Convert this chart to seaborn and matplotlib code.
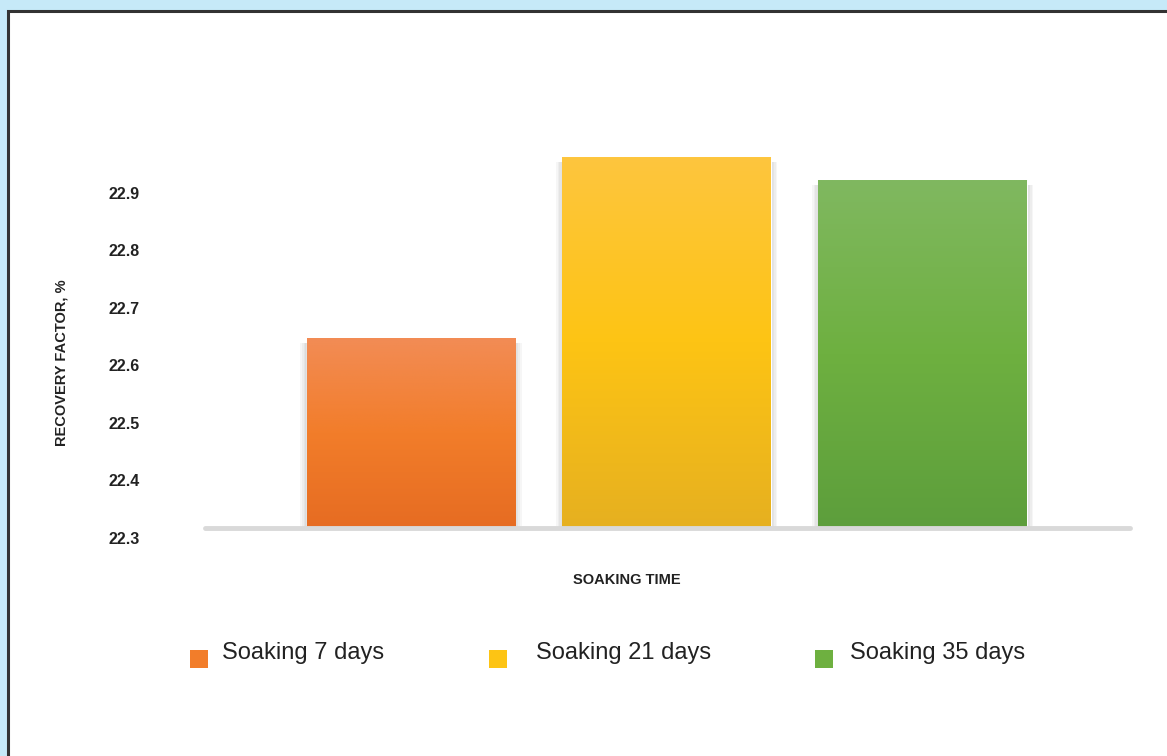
import numpy as np
import pandas as pd
import matplotlib
matplotlib.use("Agg")
import matplotlib.pyplot as plt
import matplotlib.patches as mpatches
import matplotlib.transforms as mtransforms
from matplotlib.colors import LinearSegmentedColormap
from matplotlib.legend_handler import HandlerPatch
import seaborn as sns

# data
categories = ["Soaking 7 days", "Soaking 21 days", "Soaking 35 days"]
recovery = [22.63, 22.945, 22.905]
yticks = [22.3, 22.4, 22.5, 22.6, 22.7, 22.8, 22.9]

# top / middle / bottom colours of each bar's gradient
grad_colors = [
    ["#f28c55", "#f27d2a", "#e66c22"],
    ["#fec63e", "#fdc414", "#e6b020"],
    ["#80b860", "#6eb040", "#5d9e3c"],
]
mid_colors = [c[1] for c in grad_colors]

sns.set_theme(style="white")
plt.rcParams['font.family'] = ['Liberation Sans', 'DejaVu Sans']

W, H = 1167, 756
fig = plt.figure(figsize=(W / 100, H / 100), dpi=100)
fig.patch.set_facecolor("#c6e9f8")

# white panel with dark border (left/top visible)
panel = mpatches.Rectangle((8 / W, -0.05), 1.2, (H - 11) / H + 0.05,
                           transform=fig.transFigure, facecolor="white",
                           edgecolor="#333333", lw=2.2, zorder=-5)
fig.patches.append(panel)

ax = fig.add_axes([205 / W, (H - 528) / H, (1130 - 205) / W, (528 - 125.5) / H])
ax.set_facecolor("none")
ax.set_zorder(2)

df = pd.DataFrame({"soaking": categories, "recovery": recovery})
sns.barplot(data=df, x="soaking", y="recovery", hue="soaking",
            palette=mid_colors, width=0.816, legend=False, ax=ax, zorder=3)

ymin, ymax = 22.3, 23.0

# gradients + soft shadow for each bar
for patch, cols in zip(list(ax.patches), grad_colors):
    x0 = patch.get_x()
    w = patch.get_width()
    top = patch.get_y() + patch.get_height()
    for extra in [0.024, 0.018, 0.012, 0.006]:
        sh = mpatches.Rectangle((x0 - extra, ymin - 0.006), w + 2 * extra,
                                top - ymin - 0.002,
                                facecolor="#000000", alpha=0.035, lw=0, zorder=2)
        ax.add_patch(sh)
    cmap = LinearSegmentedColormap.from_list("g", cols[::-1])
    grad = np.linspace(0, 1, 256).reshape(-1, 1)
    im = ax.imshow(grad, cmap=cmap, origin="lower", aspect="auto",
                   extent=(x0, x0 + w, ymin, top), zorder=4)
    im.set_clip_path(patch)

ax.set_xlim(-0.805, 2.81)
ax.set_ylim(ymin, ymax)

# base line
ax.axhline(ymin, color="#d9d9d9", lw=3.5, zorder=5, clip_on=False)

for s in ax.spines.values():
    s.set_visible(False)

ax.set_xticks([])
ax.set_xlabel("")
ax.set_ylabel("")
ax.set_yticks(yticks)
ax.set_yticklabels([f"{t:.1f}" for t in yticks], fontsize=11.5,
                   fontweight="bold", color="#222222")
ax.tick_params(axis="y", length=0, pad=47)
offset = mtransforms.ScaledTranslation(0, -0.10, fig.dpi_scale_trans)
for lab in ax.get_yticklabels():
    lab.set_transform(lab.get_transform() + offset)

fig.text(62 / W, 1 - 363 / H, "RECOVERY FACTOR, %", rotation=90,
         ha="center", va="center", fontsize=10.5, fontweight="bold", color="#222222")
fig.text(627 / W, 1 - 580 / H, "SOAKING TIME", ha="center", va="center",
         fontsize=10.5, fontweight="bold", color="#222222")


# legend squares sit a little below the text centre
def low_square(legend, orig_handle, xdescent, ydescent, width, height, fontsize):
    return mpatches.Rectangle((-xdescent, -ydescent - 6), width, height)


leg_x = [190, 489, 815]
leg_pad = [0.6, 1.23, 0.72]
for lab, c, lx, pad in zip(categories, mid_colors, leg_x, leg_pad):
    h = mpatches.Patch(facecolor=c, edgecolor="none", label=lab)
    leg = fig.legend(handles=[h], loc="center left",
                     bbox_to_anchor=(lx / W, 1 - 653 / H), frameon=False,
                     fontsize=17, handlelength=0.76, handleheight=0.76,
                     handletextpad=pad, borderpad=0, borderaxespad=0,
                     handler_map={mpatches.Patch: HandlerPatch(patch_func=low_square)})
    for t in leg.get_texts():
        t.set_color("#222222")

fig.savefig("out.png", dpi=100, facecolor=fig.get_facecolor())
